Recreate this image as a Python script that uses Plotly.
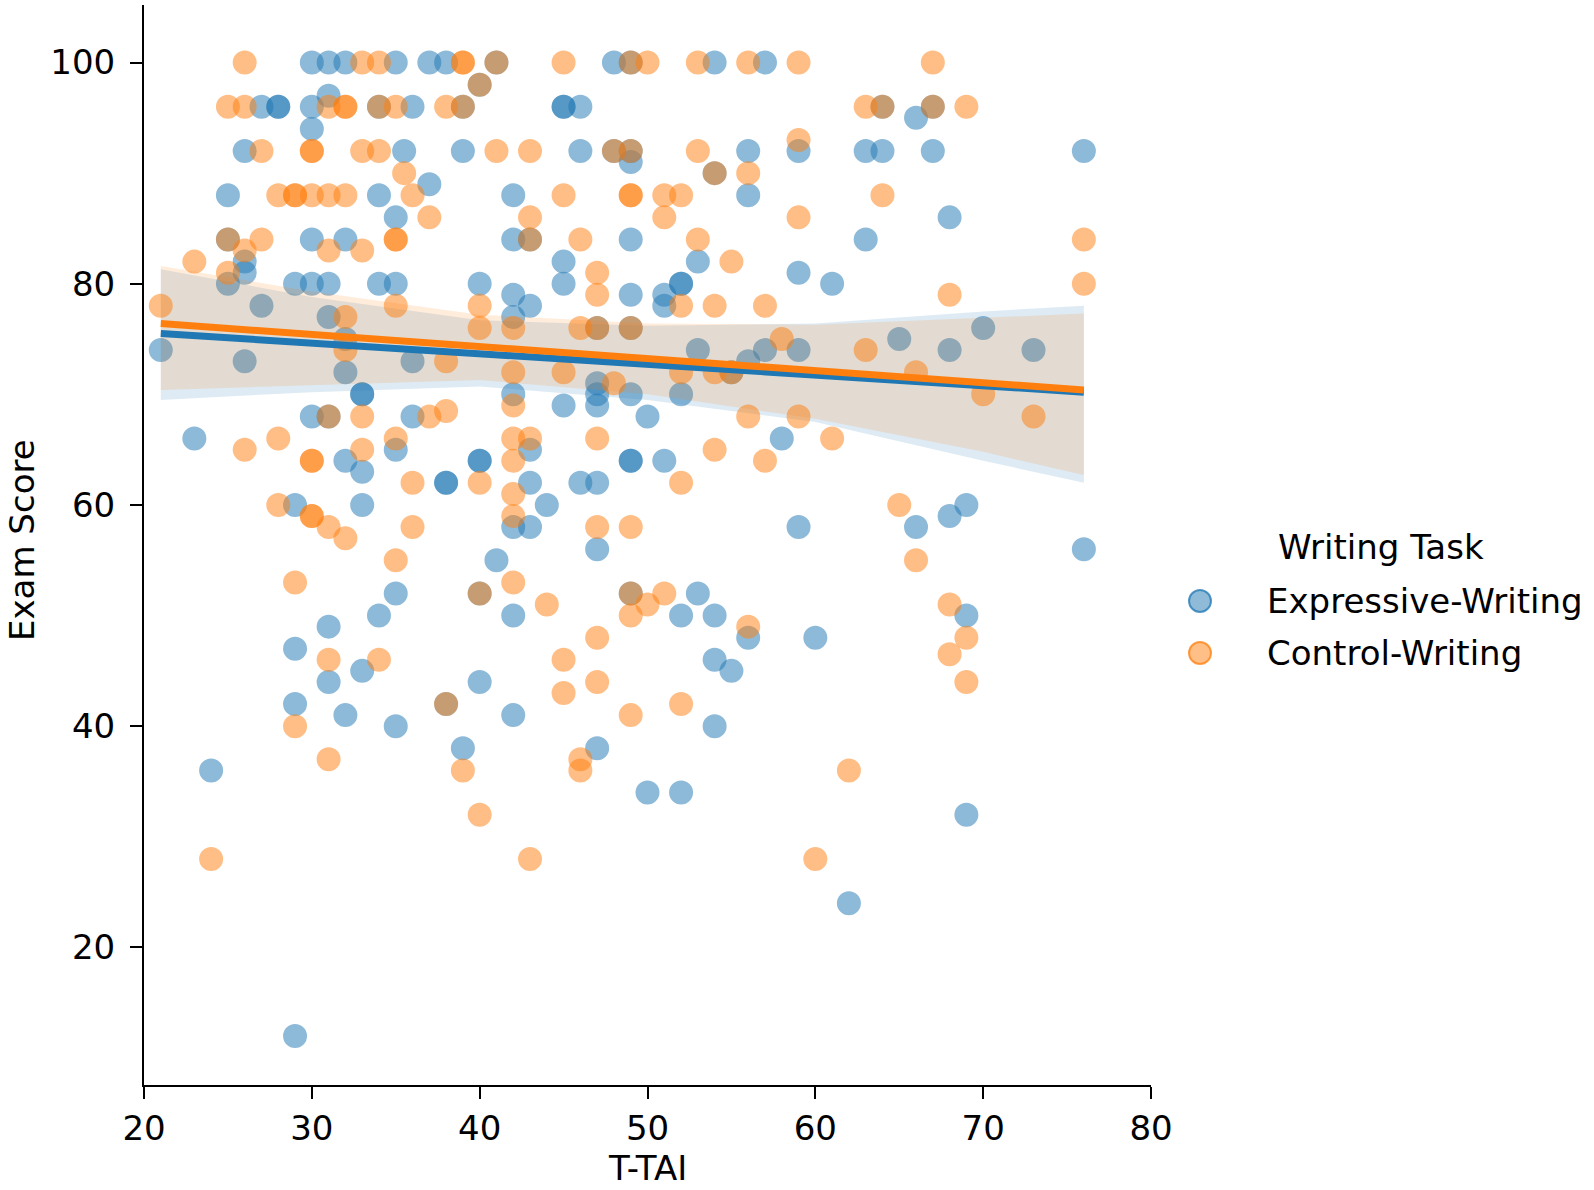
"""
Exam score vs T-TAI by writing task (lmplot style)
"""
import plotly.graph_objects as go

# Expressive-Writing group (T-TAI, Exam Score)
ex_x = [30, 31, 32, 35, 37, 38, 41, 48, 49, 54, 57,
        40, 31,
        27, 28, 28, 30, 34, 36, 39, 45, 45, 46, 64, 67,
        66, 30,
        26, 35.5, 39, 46, 48, 49, 56, 59, 63, 64, 67, 76,
        49, 54, 37,
        25, 34, 42, 56,
        35, 68,
        25, 30, 32, 42, 43, 49, 63,
        26, 45, 53,
        26, 59,
        25, 29, 30, 31, 34, 35, 40, 45, 52, 52, 61,
        42, 49, 51,
        27, 43, 51,
        31, 42,
        47, 49, 70,
        32, 65,
        21, 53, 57, 59, 68, 73,
        26, 36, 56,
        32, 55,
        47,
        33, 33, 42, 47, 49, 52,
        45, 47,
        30, 31, 36, 50,
        23, 58,
        35, 43,
        32, 40, 40, 49, 49, 51,
        33,
        38, 38, 43, 46, 47,
        29, 33, 44, 69,
        68,
        42, 43, 59, 66,
        47, 76,
        41,
        35, 40, 49, 53,
        34, 42, 52, 54, 69,
        31,
        56, 60,
        29,
        54,
        33, 55,
        31, 40,
        29, 38,
        32, 42,
        35, 54,
        39, 47,
        24,
        50, 52,
        69,
        62,
        29]
ex_y = [100, 100, 100, 100, 100, 100, 100, 100, 100, 100, 100,
        98, 97,
        96, 96, 96, 96, 96, 96, 96, 96, 96, 96, 96, 96,
        95, 94,
        92, 92, 92, 92, 92, 92, 92, 92, 92, 92, 92, 92,
        91, 90, 89,
        88, 88, 88, 88,
        86, 86,
        84, 84, 84, 84, 84, 84, 84,
        82, 82, 82,
        81, 81,
        80, 80, 80, 80, 80, 80, 80, 80, 80, 80, 80,
        79, 79, 79,
        78, 78, 78,
        77, 77,
        76, 76, 76,
        75, 75,
        74, 74, 74, 74, 74, 74,
        73, 73, 73,
        72, 72,
        71,
        70, 70, 70, 70, 70, 70,
        69, 69,
        68, 68, 68, 68,
        66, 66,
        65, 65,
        64, 64, 64, 64, 64, 64,
        63,
        62, 62, 62, 62, 62,
        60, 60, 60, 60,
        59,
        58, 58, 58, 58,
        56, 56,
        55,
        52, 52, 52, 52,
        50, 50, 50, 50, 50,
        49,
        48, 48,
        47,
        46,
        45, 45,
        44, 44,
        42, 42,
        41, 41,
        40, 40,
        38, 38,
        36,
        34, 34,
        32,
        24,
        12]

# Control-Writing group
ct_x = [26, 33, 34, 39, 39, 41, 45, 49, 50, 53, 56, 59, 67,
        40,
        25, 26, 31, 32, 32, 34, 35, 38, 39, 63, 64, 67, 69,
        59,
        27, 30, 30, 33, 34, 41, 43, 48, 49, 53,
        35.5, 54, 56,
        28, 29, 29, 30, 31, 32, 36, 45, 49, 49, 51, 52, 64,
        37, 43, 51, 59,
        25, 27, 35, 35, 43, 46, 53, 76,
        26, 31, 33,
        23, 55,
        25, 47,
        76,
        47, 68,
        21, 35, 40, 52, 54, 57,
        32,
        40, 42, 46, 47, 49,
        58,
        32, 63,
        38,
        42, 45, 52, 54, 55, 66,
        48,
        70,
        42,
        38,
        31, 33, 37, 56, 59, 73,
        28, 35, 42, 43, 47, 61,
        26, 33, 54,
        30, 30, 42, 57,
        36, 40, 52,
        42,
        28, 65,
        30, 30, 42,
        31, 36, 47, 49,
        32,
        35, 66,
        29, 42,
        40, 49, 51,
        44, 50, 68,
        49,
        56,
        47, 69,
        68,
        31, 34, 45,
        47, 69,
        45,
        38, 52,
        49,
        29,
        31, 46,
        39, 46, 62,
        40,
        24, 43, 60]
ct_y = [100, 100, 100, 100, 100, 100, 100, 100, 100, 100, 100, 100, 100,
        98,
        96, 96, 96, 96, 96, 96, 96, 96, 96, 96, 96, 96, 96,
        93,
        92, 92, 92, 92, 92, 92, 92, 92, 92, 92,
        90, 90, 90,
        88, 88, 88, 88, 88, 88, 88, 88, 88, 88, 88, 88, 88,
        86, 86, 86, 86,
        84, 84, 84, 84, 84, 84, 84, 84,
        83, 83, 83,
        82, 82,
        81, 81,
        80,
        79, 79,
        78, 78, 78, 78, 78, 78,
        77,
        76, 76, 76, 76, 76,
        75,
        74, 74,
        73,
        72, 72, 72, 72, 72, 72,
        71,
        70,
        69,
        68.5,
        68, 68, 68, 68, 68, 68,
        66, 66, 66, 66, 66, 66,
        65, 65, 65,
        64, 64, 64, 64,
        62, 62, 62,
        61,
        60, 60,
        59, 59, 59,
        58, 58, 58, 58,
        57,
        55, 55,
        53, 53,
        52, 52, 52,
        51, 51, 51,
        50,
        49,
        48, 48,
        46.5,
        46, 46, 46,
        44, 44,
        43,
        42, 42,
        41,
        40,
        37, 37,
        36, 36, 36,
        32,
        28, 28, 28]

# regression fits and confidence bands
fit_x = [21, 76]
ex_fit = [75.5, 70.2]
ct_fit = [76.4, 70.4]
band_x = [21, 30, 40, 50, 60, 70, 76]
ex_hi = [81.3, 78.8, 76.7, 76.2, 76.4, 77.5, 78.0]
ex_lo = [69.5, 70.2, 70.7, 69.5, 67.5, 64.0, 62.0]
ct_hi = [81.6, 79.3, 77.2, 76.4, 76.3, 76.9, 77.3]
ct_lo = [70.4, 70.8, 71.3, 70.0, 67.8, 64.8, 62.7]

BLUE = '#1f77b4'
ORANGE = '#ff7f0e'

groups = [
    ('Expressive-Writing', ex_x, ex_y, ex_fit, ex_hi, ex_lo, BLUE, '31,119,180'),
    ('Control-Writing', ct_x, ct_y, ct_fit, ct_hi, ct_lo, ORANGE, '255,127,14'),
]

fig = go.Figure()
# points and bands first (matplotlib zorder 1), regression lines on top
for name, xs, ys, fit, hi, lo, col, rgb in groups:
    fig.add_trace(go.Scatter(x=xs, y=ys, mode='markers', name=name, showlegend=False,
                             marker=dict(size=22, color=col, opacity=0.5,
                                         line=dict(color=col, width=2))))
    fig.add_trace(go.Scatter(x=band_x + band_x[::-1], y=hi + lo[::-1], mode='lines',
                             fill='toself', fillcolor='rgba(%s,0.15)' % rgb,
                             line=dict(width=0), showlegend=False, hoverinfo='skip'))
for name, xs, ys, fit, hi, lo, col, rgb in groups:
    fig.add_trace(go.Scatter(x=fit_x, y=fit, mode='lines', showlegend=False,
                             line=dict(color=col, width=7)))

W, H = 1594, 1190
L, R, T, B = 144, 443, 5, 105
pw, ph = W - L - R, H - T - B


def px(x):
    # page pixel x -> paper coordinate
    return (x - L) / pw


def py(y):
    return (H - B - y) / ph


annotations = [
    dict(text='Exam Score', textangle=-90, x=px(0), y=py(540), xref='paper', yref='paper',
         showarrow=False, xanchor='left', yanchor='middle'),
    dict(text='T-TAI', x=0.5, y=py(1190), xref='paper', yref='paper',
         showarrow=False, xanchor='center', yanchor='bottom'),
    dict(text='Writing Task', x=px(1381), y=py(547), xref='paper', yref='paper',
         showarrow=False, xanchor='center', yanchor='middle'),
]
shapes = []
for i, (name, xs, ys, fit, hi, lo, col, rgb) in enumerate(groups):
    cy = 601 + 52 * i
    shapes.append(dict(type='circle', xref='paper', yref='paper', xsizemode='pixel',
                       ysizemode='pixel', xanchor=px(1200), yanchor=py(cy),
                       x0=-11, x1=11, y0=-11, y1=11,
                       fillcolor='rgba(%s,0.5)' % rgb,
                       line=dict(color='rgba(%s,0.75)' % rgb, width=2)))
    annotations.append(dict(text=name, x=px(1265), y=py(cy), xref='paper', yref='paper',
                            showarrow=False, xanchor='left', yanchor='middle'))

fig.update_layout(
    width=W, height=H,
    margin=dict(l=L, r=R, t=T, b=B),
    plot_bgcolor='white', paper_bgcolor='white',
    font=dict(family='DejaVu Sans', size=34, color='black'),
    showlegend=False,
    annotations=annotations,
    shapes=shapes,
)
fig.update_xaxes(range=[20, 80], tickvals=[20, 30, 40, 50, 60, 70, 80],
                 showgrid=False, zeroline=False, showline=True, linecolor='black',
                 linewidth=2, ticks='outside', ticklen=12, tickwidth=2, tickcolor='black',
                 ticklabelstandoff=0)
fig.update_yaxes(range=[7.56, 105.2], tickvals=[20, 40, 60, 80, 100],
                 showgrid=False, zeroline=False, showline=True, linecolor='black',
                 linewidth=2, ticks='outside', ticklen=12, tickwidth=2, tickcolor='black',
                 ticklabelstandoff=8)

# drop the default 8px body margin so the figure sits at the page corner
fig.write_html("out.html", config={'displayModeBar': False},
               post_script="document.body.style.margin='0';")
